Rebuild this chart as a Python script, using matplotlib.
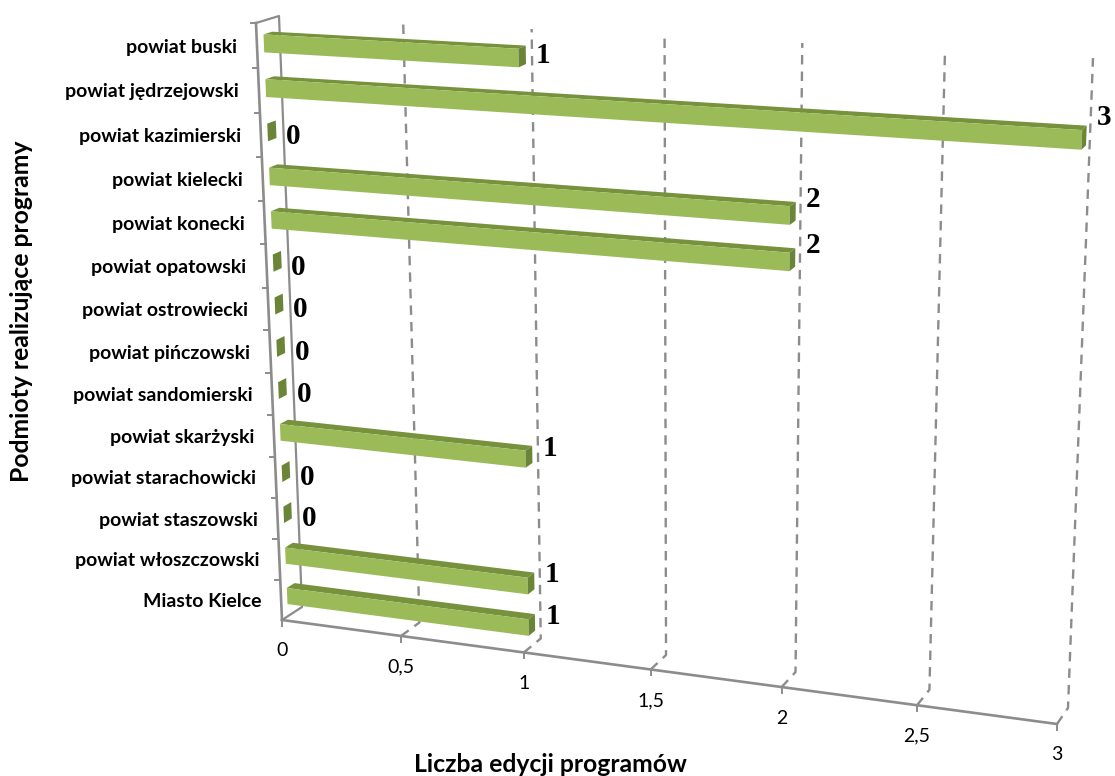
import numpy as np
import matplotlib
matplotlib.use('Agg')
import matplotlib.pyplot as plt

categories = ['powiat buski', 'powiat jędrzejowski', 'powiat kazimierski', 'powiat kielecki',
              'powiat konecki', 'powiat opatowski', 'powiat ostrowiecki', 'powiat pińczowski',
              'powiat sandomierski', 'powiat skarżyski', 'powiat starachowicki', 'powiat staszowski',
              'powiat włoszczowski', 'Miasto Kielce']
values = [1, 3, 0, 2, 2, 0, 0, 0, 0, 1, 0, 0, 1, 1]
ticks = [0, 0.5, 1, 1.5, 2, 2.5, 3]
tick_labels = ['0', '0,5', '1', '1,5', '2', '2,5', '3']

VMAX = 3
N = len(categories)
plt.rcParams['font.family'] = ['Lato', 'DejaVu Sans']

# pixel corners of the front and back planes, order: (0,top) (max,top) (0,bottom) (max,bottom)
front_corners = [(256, 23), (1081, 69), (282, 620), (1057, 724)]
back_corners = [(279, 16), (1093, 58), (302, 607), (1068, 708)]


def homography(corners):
    src = [(0, 0), (1, 0), (0, 1), (1, 1)]
    A, b = [], []
    for (u, w), (x, y) in zip(src, corners):
        A.append([u, w, 1, 0, 0, 0, -u * x, -w * x])
        A.append([0, 0, 0, u, w, 1, -u * y, -w * y])
        b += [x, y]
    h = np.linalg.solve(np.array(A, float), np.array(b, float))
    return np.append(h, 1).reshape(3, 3)


H_front = homography(front_corners)
H_back = homography(back_corners)


def project(v, r, d=0.0):
    p = np.array([v / VMAX, r / N, 1.0])
    a = H_front @ p
    b = H_back @ p
    return (1 - d) * a[:2] / a[2] + d * b[:2] / b[2]


def line(pts, **kw):
    xy = np.array(pts)
    ax.plot(xy[:, 0], xy[:, 1], **kw)


fig = plt.figure(figsize=(11.15, 7.76), dpi=100)
ax = fig.add_axes([0, 0, 1, 1])
ax.set_xlim(0, 1115)
ax.set_ylim(776, 0)
ax.axis('off')

grey = '#8c8c8c'

# gridlines on floor and back wall
for t in ticks[1:]:
    line([project(t, N), project(t, N, 1), project(t, 0, 1)], color=grey, lw=1.7,
         dashes=(4, 3), zorder=1)

# walls and axes
line([project(0, 0), project(0, N)], color=grey, lw=1.9, zorder=2)
line([project(0, 0), project(0, 0, 1), project(0, N, 1), project(0, N)], color=grey, lw=1.6, zorder=2)
line([project(0, N), project(VMAX, N)], color=grey, lw=1.9, zorder=2)

for t, lab in zip(ticks, tick_labels):
    x, y = project(t, N)
    ax.plot([x, x], [y, y + 6], color=grey, lw=1.4, zorder=2)
    ax.text(x, y + 31, lab, ha='center', va='center', fontsize=14, color='black')

for r in range(N):
    x, y = project(0, r)
    ax.plot([x - 5, x], [y, y], color=grey, lw=1.4, zorder=2)

# bars
d0, d1 = 0.3, 0.68
f0, f1 = 0.3, 0.7
for r, (cat, v) in enumerate(zip(categories, values)):
    rt, rb = r + f0, r + f1
    if v > 0:
        top = [project(0, rt, d0), project(v, rt, d0), project(v, rt, d1), project(0, rt, d1)]
        face = [project(0, rt, d0), project(v, rt, d0), project(v, rb, d0), project(0, rb, d0)]
        ax.fill(*zip(*top), color='#76923C', lw=0, zorder=3)
        ax.fill(*zip(*face), color='#9BBB59', lw=0, zorder=4)
    side = [project(v, rt, d0), project(v, rt, d1), project(v, rb, d1), project(v, rb, d0)]
    ax.fill(*zip(*side), color='#6B8538', lw=0, zorder=4)

    # category label
    x, y = project(0, r + 0.5)
    ax.text(x - 20, y + 1.5, cat, ha='right', va='center', fontsize=14, fontweight='bold', color='black')

    # value label
    x, y = project(v, r + 0.5, 0.6)
    dy = 7 if v == 0 else -1 - 6 * v
    if r == 0:
        dy += 7
    ax.text(x + 19, y + dy, str(v), ha='center', va='center', fontsize=21,
            fontweight='bold', family='Liberation Serif', color='black', zorder=5)

ax.text(550, 765, 'Liczba edycji programów', ha='center', va='center', fontsize=17.8,
        fontweight='bold', color='black')
ax.text(22, 311, 'Podmioty realizujące programy', ha='center', va='center', rotation=90,
        fontsize=17.8, fontweight='bold', color='black')

fig.savefig('out.png', dpi=100)
